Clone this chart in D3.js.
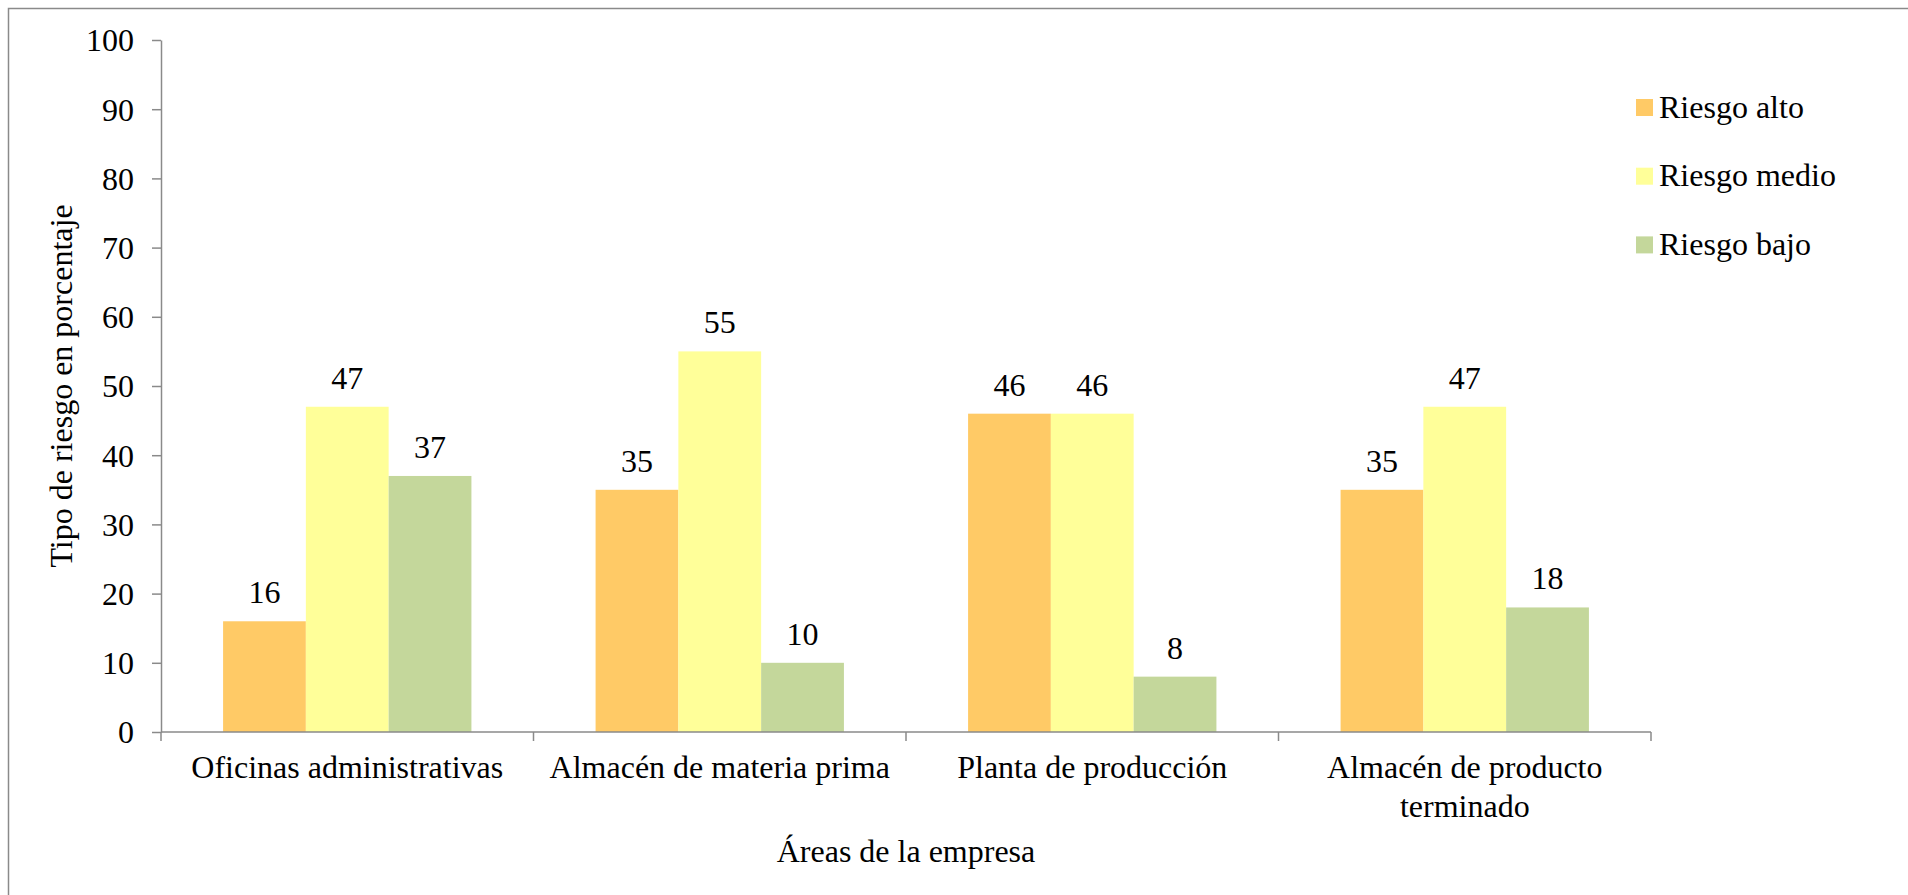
<!DOCTYPE html>
<html>
<head>
<meta charset="utf-8">
<script src="https://cdn.jsdelivr.net/npm/d3@7"></script>
<style>
  html, body { margin: 0; padding: 0; background: #fff; }
  svg { display: block; }
  text { fill: #000; }
</style>
</head>
<body>
<svg id="chart" width="1908" height="895"></svg>
<script>
// Risk level per company area (percent)
const categories = [
  ["Oficinas administrativas"],
  ["Almacén de materia prima"],
  ["Planta de producción"],
  ["Almacén de producto", "terminado"]
];
const seriesNames = ["Riesgo alto", "Riesgo medio", "Riesgo bajo"];
const riesgoAlto  = [16, 35, 46, 35];
const riesgoMedio = [47, 55, 46, 47];
const riesgoBajo  = [37, 10, 8, 18];
const yTicks = [0, 10, 20, 30, 40, 50, 60, 70, 80, 90, 100];
const colors = ["#FFCA66", "#FFFF99", "#C4D79B"];

const seriesValues = [riesgoAlto, riesgoMedio, riesgoBajo];
const catKeys = categories.map(c => c.join(" "));

const FONT = "'Liberation Serif', 'Times New Roman', Tinos, 'DejaVu Serif', serif";
const svg = d3.select("#chart").style("font-family", FONT);
const fontSize = 32;
const axisColor = "#8a8a8a";

// outer frame
svg.append("rect")
  .attr("x", 8.5).attr("y", 8.5)
  .attr("width", 1920).attr("height", 920)
  .attr("fill", "none").attr("stroke", "#8a8a8a").attr("stroke-width", 1.5);

const plot = { left: 161, right: 1651, top: 40, bottom: 732 };

const x0 = d3.scaleBand().domain(catKeys).range([plot.left, plot.right]).padding(0);
const bw = x0.bandwidth();
const gap = bw * 1.5 / 4.5;
const x1 = d3.scaleBand().domain(seriesNames).range([gap / 2, bw - gap / 2]).padding(0);
const y = d3.scaleLinear().domain([0, 100]).range([plot.bottom, plot.top]);

// bars
const groups = svg.append("g").selectAll("g")
  .data(catKeys)
  .join("g")
  .attr("transform", d => `translate(${x0(d)},0)`);

groups.selectAll("rect")
  .data((d, i) => seriesNames.map((s, j) => ({ s, j, v: seriesValues[j][i] })))
  .join("rect")
  .attr("x", d => x1(d.s))
  .attr("width", x1.bandwidth())
  .attr("y", d => y(d.v))
  .attr("height", d => y(0) - y(d.v))
  .attr("fill", d => colors[d.j]);

// value labels
groups.selectAll("text.val")
  .data((d, i) => seriesNames.map((s, j) => ({ s, j, v: seriesValues[j][i] })))
  .join("text")
  .attr("class", "val")
  .attr("x", d => x1(d.s) + x1.bandwidth() / 2)
  .attr("y", d => y(d.v) - 18)
  .attr("text-anchor", "middle")
  .style("font-family", FONT)
  .style("font-size", fontSize + "px")
  .text(d => d.v);

// y axis
const yAxis = svg.append("g")
  .attr("transform", `translate(${plot.left},0)`)
  .call(d3.axisLeft(y).tickValues(yTicks).tickSize(9).tickPadding(18).tickSizeOuter(0));
yAxis.attr("font-family", null).attr("font-size", null);
yAxis.select(".domain").attr("stroke", axisColor).attr("stroke-width", 1.5);
yAxis.selectAll(".tick line").attr("stroke", axisColor).attr("stroke-width", 1.5);
yAxis.selectAll(".tick text")
  .style("font-size", fontSize + "px")
  .style("font-family", FONT)
  .attr("fill", "#000")
  .attr("dy", "0.34em");

// x axis with ticks at category boundaries
const xAxis = svg.append("g").attr("transform", `translate(0,${plot.bottom})`);
xAxis.append("line")
  .attr("x1", plot.left).attr("x2", plot.right)
  .attr("stroke", axisColor).attr("stroke-width", 1.5);
const boundaries = catKeys.map(k => x0(k)).concat([x0(catKeys[catKeys.length - 1]) + bw]);
xAxis.selectAll("line.tk")
  .data(boundaries)
  .join("line")
  .attr("class", "tk")
  .attr("x1", d => d).attr("x2", d => d)
  .attr("y1", 0).attr("y2", 9)
  .attr("stroke", axisColor).attr("stroke-width", 1.5);

// category labels (may wrap to two lines)
const catLabels = xAxis.selectAll("text.cat")
  .data(categories)
  .join("text")
  .attr("class", "cat")
  .attr("text-anchor", "middle")
  .style("font-family", FONT)
  .style("font-size", fontSize + "px")
  .attr("transform", (d, i) => `translate(${x0(catKeys[i]) + bw / 2},46)`);
catLabels.selectAll("tspan")
  .data(d => d)
  .join("tspan")
  .attr("x", 0)
  .attr("y", (d, i) => i * 39)
  .text(d => d);

// axis titles
svg.append("text")
  .attr("x", (plot.left + plot.right) / 2)
  .attr("y", 862)
  .attr("text-anchor", "middle")
  .style("font-family", FONT)
  .style("font-size", fontSize + "px")
  .text("Áreas de la empresa");

svg.append("text")
  .attr("transform", `translate(72,${(plot.top + plot.bottom) / 2}) rotate(-90)`)
  .attr("text-anchor", "middle")
  .style("font-family", FONT)
  .style("font-size", fontSize + "px")
  .text("Tipo de riesgo en porcentaje");

// legend
const legend = svg.append("g").attr("transform", "translate(1636,99)");
const items = legend.selectAll("g")
  .data(seriesNames)
  .join("g")
  .attr("transform", (d, i) => `translate(0,${i * 68.7})`);
items.append("rect")
  .attr("width", 17).attr("height", 17)
  .attr("fill", (d, i) => colors[i]);
items.append("text")
  .attr("x", 23).attr("y", 18.5)
  .style("font-family", FONT)
  .style("font-size", fontSize + "px")
  .text(d => d);
</script>
</body>
</html>
